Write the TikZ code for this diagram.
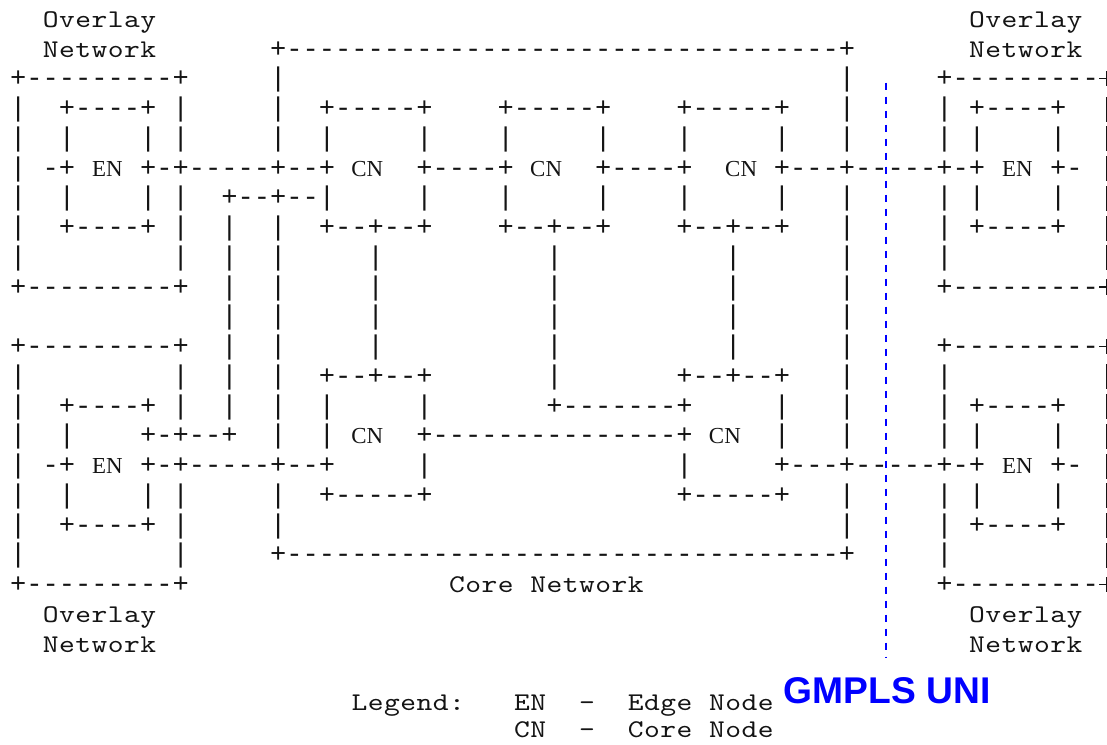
\documentclass[tikz,border=0pt]{standalone}
\usepackage{fontspec}
\setmonofont{Liberation Mono}
\newfontfamily\wordfont[FakeStretch=1.18]{lmmono10-regular.otf}
\newfontfamily\labserif{Liberation Serif}
\newfontfamily\gmsans{Liberation Sans}
\definecolor{unicol}{RGB}{0,0,255}
\definecolor{ink}{RGB}{20,20,20}
\let\spacedend\relax
\newcommand\spaced[1]{\spacedloop#1\spacedend}
\def\spacedloop#1{\ifx#1\spacedend\else\makebox[16.25pt][c]{#1}\expandafter\spacedloop\fi}
\newcommand\seg[4]{\node[txt] (#1) at ({16.25*#3-6.375},{27.25+29.75*#2}) {#4};}
\newcommand\wseg[4]{\node[word] (#1) at ({16.25*#3-6.375},{27.25+29.75*#2}) {\spaced{#4}};}
\newcommand\lseg[4]{\node[word] (#1) at ({16.25*#3-6.375},{#2}) {\spaced{#4}};}
\newcommand\lab[4]{\node[nodelab] (#1) at ({1.75+16.25*#3},{27.25+29.75*#2}) {#4};}
\newcommand\edgebar[1]{\draw[edgestroke] ({1.75+16.25*68},{27.25+29.75*#1-19.8}) -- ({1.75+16.25*68},{27.25+29.75*#1+5.2});}
\newcommand\edgeplus[1]{\draw[edgestroke] ({1.75+16.25*68-7.5},{27.25+29.75*#1-8.2}) -- ({1.75+16.25*68+8},{27.25+29.75*#1-8.2});
  \draw[edgestroke] ({1.75+16.25*68},{27.25+29.75*#1-16}) -- ({1.75+16.25*68},{27.25+29.75*#1-0.4});}
\tikzset{
  txt/.style={font=\ttfamily\fontsize{27.08}{30}\selectfont, text=ink, inner sep=0pt, anchor=base west},
  word/.style={font=\wordfont\fontsize{25.5}{28}\selectfont, text=ink, inner sep=0pt, anchor=base west},
  nodelab/.style={font=\labserif\fontsize{22.9}{25}\selectfont, text=ink, inner sep=0pt, anchor=base},
  edgestroke/.style={draw=ink, line width=1.6pt},
  uni/.style={draw=unicol, line width=2pt, dash pattern=on 7.7pt off 6.3pt},
  gm/.style={font=\gmsans\bfseries\fontsize{37.2}{40}\selectfont, text=unicol, inner sep=0pt, anchor=base west}
}
\begin{document}
\begin{tikzpicture}[x=1pt,y=-1pt]
\useasboundingbox (0,0) rectangle (1107,744);
\fill[white] (0,0) rectangle (1107,744);
\clip (0,0) rectangle (1107,744);
% row 0
\wseg{a0}{0}{3}{Overlay}
\wseg{b0}{0}{60}{Overlay}
% row 1
\wseg{a1}{1}{3}{Network}
\seg{b1}{1}{17}{+----------------------------------+}
\wseg{c1}{1}{60}{Network}
% row 2
\seg{a2}{2}{1}{+---------+}
\seg{b2}{2}{17}{|}
\seg{c2}{2}{52}{|}
\seg{d2}{2}{58}{+---------}
% row 3
\seg{a3}{3}{1}{|}
\seg{b3}{3}{4}{+----+}
\seg{c3}{3}{11}{|}
\seg{d3}{3}{17}{|}
\seg{e3}{3}{20}{+-----+}
\seg{f3}{3}{31}{+-----+}
\seg{g3}{3}{42}{+-----+}
\seg{h3}{3}{52}{|}
\seg{i3}{3}{58}{|}
\seg{j3}{3}{60}{+----+}
% row 4
\seg{a4}{4}{1}{|}
\seg{b4}{4}{4}{|}
\seg{c4}{4}{9}{|}
\seg{d4}{4}{11}{|}
\seg{e4}{4}{17}{|}
\seg{f4}{4}{20}{|}
\seg{g4}{4}{26}{|}
\seg{h4}{4}{31}{|}
\seg{i4}{4}{37}{|}
\seg{j4}{4}{42}{|}
\seg{k4}{4}{48}{|}
\seg{l4}{4}{52}{|}
\seg{m4}{4}{58}{|}
\seg{n4}{4}{60}{|}
\seg{o4}{4}{65}{|}
% row 5
\seg{a5}{5}{1}{|}
\seg{b5}{5}{3}{-+}
\seg{c5}{5}{9}{+-+-----+--+}
\seg{d5}{5}{26}{+----+}
\seg{e5}{5}{37}{+----+}
\seg{f5}{5}{48}{+---+-----+-+}
\seg{g5}{5}{65}{+-}
\lab{en1}{5}{6.5}{EN}
\lab{cn1}{5}{22.5}{CN}
\lab{cn2}{5}{33.5}{CN}
\lab{cn3}{5}{45.5}{CN}
\lab{en2}{5}{62.5}{EN}
% row 6
\seg{a6}{6}{1}{|}
\seg{b6}{6}{4}{|}
\seg{c6}{6}{9}{|}
\seg{d6}{6}{11}{|}
\seg{e6}{6}{14}{+--+--|}
\seg{f6}{6}{26}{|}
\seg{g6}{6}{31}{|}
\seg{h6}{6}{37}{|}
\seg{i6}{6}{42}{|}
\seg{j6}{6}{48}{|}
\seg{k6}{6}{52}{|}
\seg{l6}{6}{58}{|}
\seg{m6}{6}{60}{|}
\seg{n6}{6}{65}{|}
% row 7
\seg{a7}{7}{1}{|}
\seg{b7}{7}{4}{+----+}
\seg{c7}{7}{11}{|}
\seg{d7}{7}{14}{|}
\seg{e7}{7}{17}{|}
\seg{f7}{7}{20}{+--+--+}
\seg{g7}{7}{31}{+--+--+}
\seg{h7}{7}{42}{+--+--+}
\seg{i7}{7}{52}{|}
\seg{j7}{7}{58}{|}
\seg{k7}{7}{60}{+----+}
% row 8
\seg{a8}{8}{1}{|}
\seg{b8}{8}{11}{|}
\seg{c8}{8}{14}{|}
\seg{d8}{8}{17}{|}
\seg{e8}{8}{23}{|}
\seg{f8}{8}{34}{|}
\seg{g8}{8}{45}{|}
\seg{h8}{8}{52}{|}
\seg{i8}{8}{58}{|}
% row 9
\seg{a9}{9}{1}{+---------+}
\seg{b9}{9}{14}{|}
\seg{c9}{9}{17}{|}
\seg{d9}{9}{23}{|}
\seg{e9}{9}{34}{|}
\seg{f9}{9}{45}{|}
\seg{g9}{9}{52}{|}
\seg{h9}{9}{58}{+---------}
% row 10
\seg{a10}{10}{14}{|}
\seg{b10}{10}{17}{|}
\seg{c10}{10}{23}{|}
\seg{d10}{10}{34}{|}
\seg{e10}{10}{45}{|}
\seg{f10}{10}{52}{|}
% row 11
\seg{a11}{11}{1}{+---------+}
\seg{b11}{11}{14}{|}
\seg{c11}{11}{17}{|}
\seg{d11}{11}{23}{|}
\seg{e11}{11}{34}{|}
\seg{f11}{11}{45}{|}
\seg{g11}{11}{52}{|}
\seg{h11}{11}{58}{+---------}
% row 12
\seg{a12}{12}{1}{|}
\seg{b12}{12}{11}{|}
\seg{c12}{12}{14}{|}
\seg{d12}{12}{17}{|}
\seg{e12}{12}{20}{+--+--+}
\seg{f12}{12}{34}{|}
\seg{g12}{12}{42}{+--+--+}
\seg{h12}{12}{52}{|}
\seg{i12}{12}{58}{|}
% row 13
\seg{a13}{13}{1}{|}
\seg{b13}{13}{4}{+----+}
\seg{c13}{13}{11}{|}
\seg{d13}{13}{14}{|}
\seg{e13}{13}{17}{|}
\seg{f13}{13}{20}{|}
\seg{g13}{13}{26}{|}
\seg{h13}{13}{34}{+-------+}
\seg{i13}{13}{48}{|}
\seg{j13}{13}{52}{|}
\seg{k13}{13}{58}{|}
\seg{l13}{13}{60}{+----+}
% row 14
\seg{a14}{14}{1}{|}
\seg{b14}{14}{4}{|}
\seg{c14}{14}{9}{+-+--+}
\seg{d14}{14}{17}{|}
\seg{e14}{14}{20}{|}
\seg{f14}{14}{26}{+---------------+}
\seg{g14}{14}{48}{|}
\seg{h14}{14}{52}{|}
\seg{i14}{14}{58}{|}
\seg{j14}{14}{60}{|}
\seg{k14}{14}{65}{|}
\lab{cn4}{14}{22.5}{CN}
\lab{cn5}{14}{44.5}{CN}
% row 15
\seg{a15}{15}{1}{|}
\seg{b15}{15}{3}{-+}
\seg{c15}{15}{9}{+-+-----+--+}
\seg{d15}{15}{26}{|}
\seg{e15}{15}{42}{|}
\seg{f15}{15}{48}{+---+-----+-+}
\seg{g15}{15}{65}{+-}
\lab{en3}{15}{6.5}{EN}
\lab{en4}{15}{62.5}{EN}
% row 16
\seg{a16}{16}{1}{|}
\seg{b16}{16}{4}{|}
\seg{c16}{16}{9}{|}
\seg{d16}{16}{11}{|}
\seg{e16}{16}{17}{|}
\seg{f16}{16}{20}{+-----+}
\seg{g16}{16}{42}{+-----+}
\seg{h16}{16}{52}{|}
\seg{i16}{16}{58}{|}
\seg{j16}{16}{60}{|}
\seg{k16}{16}{65}{|}
% row 17
\seg{a17}{17}{1}{|}
\seg{b17}{17}{4}{+----+}
\seg{c17}{17}{11}{|}
\seg{d17}{17}{17}{|}
\seg{e17}{17}{52}{|}
\seg{f17}{17}{58}{|}
\seg{g17}{17}{60}{+----+}
% row 18
\seg{a18}{18}{1}{|}
\seg{b18}{18}{11}{|}
\seg{c18}{18}{17}{+----------------------------------+}
\seg{d18}{18}{58}{|}
% row 19
\seg{a19}{19}{1}{+---------+}
\wseg{b19}{19}{28}{Core~Network}
\seg{c19}{19}{58}{+---------}
% rows 20-21
\wseg{a20}{20}{3}{Overlay}
\wseg{b20}{20}{60}{Overlay}
\wseg{a21}{21}{3}{Network}
\wseg{b21}{21}{60}{Network}
% right edge of the right overlay networks (cut by the picture border)
\foreach \r in {3,4,5,6,7,8,12,13,14,15,16,17,18} {\edgebar{\r}}
\foreach \r in {2,9,11,19} {\edgeplus{\r}}
% legend
\lseg{leg}{710.5}{22}{Legend:}
\lseg{legen}{710.5}{32}{EN}
\lseg{legd1}{710.5}{36}{-}
\lseg{legedge}{710.5}{39}{Edge~Node}
\lseg{legcn}{737.5}{32}{CN}
\lseg{legd2}{737.5}{36}{-}
\lseg{legcore}{737.5}{39}{Core~Node}
% GMPLS UNI boundary
\coordinate (uniTop) at (885.7,82.5);
\coordinate (uniBot) at (885.7,657);
\draw[uni] (uniTop) -- (uniBot);
\node[gm] (gmpls) at (783.5,703.3) {GMPLS UNI};
\end{tikzpicture}
\end{document}
